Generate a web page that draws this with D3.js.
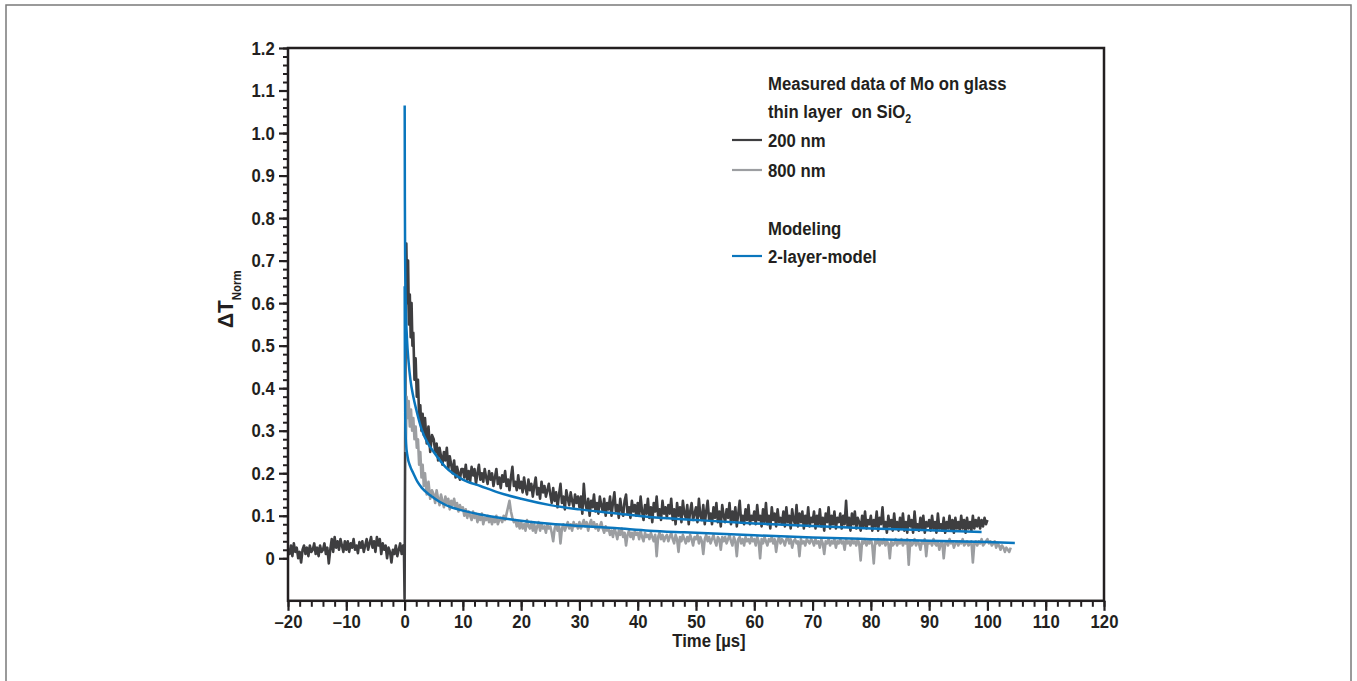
<!DOCTYPE html>
<html>
<head>
<meta charset="utf-8">
<script src="https://cdn.jsdelivr.net/npm/d3@7"></script>
<style>
  body { margin: 0; background: #fff; }
  svg text { font-family: "Liberation Sans", Arial, sans-serif; font-weight: bold; fill: #231f20; }
  .axis path, .axis line { stroke: #231f20; }
</style>
</head>
<body>
<svg id="chart" width="1357" height="681"></svg>
<script>
// ---- data ----
const xTicks = [-20, -10, 0, 10, 20, 30, 40, 50, 60, 70, 80, 90, 100, 110, 120];
const yTicks = [0, 0.1, 0.2, 0.3, 0.4, 0.5, 0.6, 0.7, 0.8, 0.9, 1.0, 1.1, 1.2];

// 200 nm, before the pulse: t = -20 ... -0.25, step 0.25
const dark200Pre = [
  0.02, 0.01, 0.03, 0.005, 0.035, 0.015, 0.025, 0.0, 0.015, -0.01, 0.02, 0.03, 0.01, 0.025, 0.005, 0.03, 0.015, 0.02, 0.035, 0.01,
  0.025, 0.005, 0.03, 0.015, 0.02, 0.035, 0.01, 0.025, -0.012, 0.02, 0.045, 0.015, 0.05, 0.025, 0.04, 0.02, 0.045, 0.03, 0.015, 0.04,
  0.02, 0.04, 0.015, 0.035, 0.025, 0.045, 0.02, 0.03, 0.012, 0.038, 0.025, 0.04, 0.015, 0.03, 0.045, 0.02, 0.035, 0.05, 0.025, 0.04,
  0.015, 0.05, 0.03, 0.045, 0.01, 0.035, 0.02, 0.03, 0.0, 0.025, 0.015, -0.01, 0.02, 0.01, 0.03, 0.005, 0.02, 0.035, 0.01, 0.03];

// 200 nm, around the pulse [t, value]
const dark200Peak = [[-0.1, 0.015], [0, -0.095], [0.15, 0.45], [0.3, 0.74], [0.45, 0.6], [0.6, 0.7],
  [0.75, 0.55], [0.9, 0.62], [1.05, 0.52], [1.2, 0.6], [1.35, 0.5], [1.5, 0.53], [1.7, 0.42],
  [1.9, 0.47], [2.1, 0.38], [2.3, 0.42], [2.5, 0.33], [2.7, 0.36], [2.9, 0.3], [3.1, 0.34],
  [3.3, 0.29], [3.5, 0.33], [3.8, 0.27], [4.1, 0.31], [4.4, 0.25], [4.7, 0.29]];

// 200 nm, tail: t = 5 ... 100, step 0.25
const dark200Tail = [
  0.28, 0.25, 0.27, 0.23, 0.26, 0.24, 0.22, 0.25, 0.23, 0.26, 0.21, 0.24, 0.22, 0.2, 0.23, 0.19, 0.215, 0.2, 0.185, 0.21,
  0.21, 0.19, 0.22, 0.185, 0.205, 0.18, 0.215, 0.195, 0.21, 0.175, 0.2, 0.22, 0.185, 0.2, 0.18, 0.21, 0.19, 0.175, 0.205, 0.185,
  0.2, 0.17, 0.19, 0.21, 0.175, 0.19, 0.165, 0.195, 0.18, 0.205, 0.17, 0.185, 0.16, 0.19, 0.215, 0.17, 0.18, 0.16, 0.195, 0.165,
  0.18, 0.155, 0.19, 0.165, 0.15, 0.185, 0.16, 0.175, 0.145, 0.17, 0.19, 0.15, 0.165, 0.14, 0.18, 0.155, 0.17, 0.145, 0.16, 0.175,
  0.15, 0.13, 0.165, 0.135, 0.155, 0.12, 0.15, 0.175, 0.13, 0.145, 0.115, 0.16, 0.14, 0.125, 0.155, 0.135, 0.12, 0.15, 0.13, 0.145,
  0.12, 0.145, 0.105, 0.175, 0.13, 0.115, 0.14, 0.1, 0.135, 0.12, 0.15, 0.11, 0.13, 0.105, 0.145, 0.125, 0.11, 0.14, 0.1, 0.13,
  0.115, 0.145, 0.1, 0.13, 0.155, 0.11, 0.125, 0.095, 0.14, 0.115, 0.1, 0.135, 0.15, 0.105, 0.12, 0.095, 0.135, 0.11, 0.125, 0.1,
  0.13, 0.1, 0.145, 0.11, 0.09, 0.125, 0.105, 0.14, 0.095, 0.12, 0.085, 0.13, 0.11, 0.145, 0.1, 0.115, 0.09, 0.135, 0.105, 0.12,
  0.095, 0.125, 0.105, 0.14, 0.09, 0.115, 0.08, 0.13, 0.1, 0.12, 0.085, 0.135, 0.105, 0.095, 0.125, 0.08, 0.11, 0.13, 0.09, 0.105,
  0.12, 0.085, 0.14, 0.1, 0.09, 0.125, 0.08, 0.11, 0.135, 0.09, 0.105, 0.08, 0.12, 0.095, 0.13, 0.085, 0.11, 0.075, 0.125, 0.1,
  0.085, 0.115, 0.095, 0.13, 0.08, 0.11, 0.09, 0.12, 0.075, 0.105, 0.135, 0.085, 0.1, 0.08, 0.115, 0.09, 0.125, 0.08, 0.1, 0.09,
  0.11, 0.08, 0.125, 0.09, 0.1, 0.075, 0.115, 0.085, 0.13, 0.08, 0.1, 0.07, 0.12, 0.09, 0.105, 0.075, 0.115, 0.085, 0.095, 0.08,
  0.11, 0.075, 0.12, 0.085, 0.1, 0.07, 0.115, 0.09, 0.08, 0.125, 0.075, 0.105, 0.085, 0.11, 0.07, 0.1, 0.08, 0.12, 0.075, 0.095,
  0.085, 0.11, 0.07, 0.1, 0.08, 0.115, 0.075, 0.095, 0.065, 0.105, 0.085, 0.12, 0.07, 0.1, 0.08, 0.11, 0.07, 0.095, 0.085, 0.105,
  0.07, 0.1, 0.08, 0.135, 0.075, 0.095, 0.065, 0.105, 0.08, 0.11, 0.07, 0.095, 0.085, 0.065, 0.1, 0.075, 0.11, 0.07, 0.09, 0.08,
  0.1, 0.065, 0.09, 0.075, 0.11, 0.065, 0.095, 0.08, 0.12, 0.07, 0.085, 0.06, 0.1, 0.075, 0.09, 0.065, 0.105, 0.07, 0.085, 0.065,
  0.095, 0.07, 0.105, 0.065, 0.085, 0.06, 0.1, 0.075, 0.09, 0.06, 0.11, 0.07, 0.08, 0.065, 0.095, 0.07, 0.1, 0.06, 0.085, 0.075,
  0.09, 0.065, 0.1, 0.07, 0.085, 0.06, 0.105, 0.07, 0.08, 0.065, 0.095, 0.06, 0.085, 0.07, 0.1, 0.065, 0.09, 0.06, 0.095, 0.07,
  0.085, 0.065, 0.1, 0.07, 0.09, 0.06, 0.095, 0.07, 0.085, 0.065, 0.1, 0.07, 0.09, 0.075, 0.095, 0.07, 0.09, 0.075, 0.095, 0.08,
  0.09];

// 800 nm, around the pulse [t, value]
const gray800Peak = [[0.2, 0.25], [0.35, 0.38], [0.5, 0.33], [0.7, 0.37], [0.9, 0.31], [1.1, 0.35],
  [1.3, 0.3], [1.5, 0.33], [1.7, 0.28], [1.9, 0.31], [2.1, 0.26], [2.3, 0.28], [2.5, 0.22],
  [2.7, 0.25], [2.9, 0.19], [3.1, 0.22], [3.3, 0.17], [3.5, 0.2], [3.8, 0.15], [4.1, 0.18],
  [4.4, 0.14], [4.7, 0.16]];

// 800 nm, tail: t = 5 ... 104, step 0.25
const gray800Tail = [
  0.15, 0.13, 0.16, 0.14, 0.125, 0.15, 0.135, 0.12, 0.145, 0.13, 0.14, 0.115, 0.135, 0.125, 0.14, 0.12, 0.13, 0.11, 0.125, 0.115,
  0.12, 0.1, 0.115, 0.095, 0.11, 0.1, 0.09, 0.11, 0.095, 0.105, 0.085, 0.1, 0.09, 0.105, 0.08, 0.095, 0.09, 0.1, 0.085, 0.095,
  0.08, 0.095, 0.085, 0.1, 0.08, 0.09, 0.095, 0.085, 0.1, 0.09, 0.105, 0.12, 0.135, 0.11, 0.095, 0.085, 0.09, 0.075, 0.085, 0.07,
  0.085, 0.07, 0.08, 0.065, 0.09, 0.075, 0.07, 0.085, 0.065, 0.08, 0.06, 0.075, 0.085, 0.065, 0.08, 0.07, 0.075, 0.06, 0.08, 0.07,
  0.075, 0.06, 0.04, 0.07, 0.08, 0.065, 0.075, 0.035, 0.07, 0.08, 0.065, 0.075, 0.085, 0.07, 0.08, 0.065, 0.085, 0.075, 0.08, 0.07,
  0.085, 0.07, 0.08, 0.09, 0.075, 0.085, 0.065, 0.08, 0.09, 0.075, 0.085, 0.07, 0.08, 0.065, 0.075, 0.085, 0.07, 0.06, 0.075, 0.065,
  0.07, 0.055, 0.065, 0.05, 0.07, 0.06, 0.045, 0.065, 0.055, 0.07, 0.05, 0.06, 0.03, 0.055, 0.065, 0.05, 0.06, 0.045, 0.065, 0.055,
  0.06, 0.045, 0.065, 0.05, 0.04, 0.06, 0.05, 0.055, 0.045, 0.06, 0.05, 0.04, 0.055, 0.005, 0.05, 0.06, 0.045, 0.055, 0.04, 0.05,
  0.055, 0.04, 0.05, 0.06, 0.045, 0.035, 0.055, 0.045, 0.015, 0.05, 0.04, 0.055, 0.045, 0.035, 0.05, 0.04, 0.055, 0.045, 0.03, 0.05,
  0.045, 0.055, 0.035, 0.05, 0.04, 0.01, 0.045, 0.055, 0.04, 0.05, 0.035, 0.045, 0.055, 0.04, 0.03, 0.05, 0.045, 0.02, 0.05, 0.04,
  0.05, 0.035, 0.045, 0.055, 0.04, 0.03, 0.05, 0.04, 0.005, 0.045, 0.05, 0.035, 0.045, 0.03, 0.05, 0.04, 0.045, 0.035, 0.05, 0.04,
  0.045, 0.03, 0.05, 0.04, 0.0, 0.045, 0.035, 0.05, 0.04, 0.03, 0.045, 0.04, 0.05, 0.035, 0.045, 0.015, 0.04, 0.05, 0.035, 0.045,
  0.04, 0.03, 0.045, 0.05, 0.035, 0.045, 0.025, 0.04, 0.045, 0.035, 0.04, 0.005, 0.045, 0.035, 0.04, 0.03, 0.045, 0.04, 0.035, 0.045,
  0.04, 0.03, 0.045, 0.035, 0.04, 0.025, 0.045, 0.035, 0.01, 0.04, 0.035, 0.045, 0.03, 0.04, 0.035, 0.045, 0.025, 0.04, 0.035, 0.045,
  0.035, 0.04, 0.02, 0.045, 0.035, 0.04, 0.03, 0.045, 0.035, 0.04, 0.03, 0.045, 0.035, -0.005, 0.04, 0.035, 0.045, 0.03, 0.04, 0.035,
  0.045, 0.03, -0.012, 0.04, 0.035, 0.045, 0.03, 0.04, 0.035, 0.045, 0.03, 0.04, 0.035, 0.0, 0.04, 0.03, 0.035, 0.045, 0.03, 0.04,
  0.035, 0.045, 0.03, 0.04, 0.035, 0.045, -0.015, 0.04, 0.03, 0.035, 0.045, 0.03, 0.04, 0.035, 0.02, 0.04, 0.035, 0.045, 0.005, 0.04,
  0.035, 0.04, 0.03, 0.045, 0.035, 0.03, 0.04, 0.02, 0.035, 0.04, 0.0, 0.035, 0.04, 0.03, 0.045, 0.035, 0.04, 0.025, 0.035, 0.04,
  0.03, 0.04, 0.035, 0.045, 0.03, 0.035, 0.04, 0.03, 0.035, 0.04, -0.01, 0.035, 0.04, 0.03, 0.04, 0.035, 0.045, 0.03, 0.035, 0.04,
  0.045, 0.035, 0.04, 0.03, 0.035, 0.04, 0.025, 0.035, 0.03, 0.02, 0.03, 0.025, 0.015, 0.025, 0.02, 0.015, 0.025];

// 2-layer-model curves [t, value]
const model200 = [[0.02, 1.065], [0.05, 0.85], [0.1, 0.7], [0.2, 0.6], [0.4, 0.52], [0.7, 0.46],
  [1, 0.42], [1.5, 0.38], [2, 0.35], [3, 0.3], [4, 0.27], [5, 0.25], [7, 0.215], [10, 0.185],
  [13, 0.17], [16, 0.155], [20, 0.14], [25, 0.125], [30, 0.115], [36, 0.106], [42, 0.097],
  [50, 0.09], [60, 0.082], [70, 0.076], [80, 0.07], [90, 0.066], [99, 0.062]];
const model800 = [[0.02, 0.64], [0.06, 0.42], [0.12, 0.32], [0.25, 0.27], [0.5, 0.24], [1, 0.215],
  [1.5, 0.2], [2.2, 0.18], [3, 0.165], [4.4, 0.148], [6, 0.133], [8, 0.12], [10, 0.112],
  [13, 0.103], [16, 0.096], [20, 0.088], [25, 0.081], [30, 0.076], [36, 0.071], [42, 0.065],
  [48, 0.061], [60, 0.054], [70, 0.049], [80, 0.045], [90, 0.041], [100, 0.038], [104.7, 0.036]];

const legendRows = [
  {label: "200 nm", color: "#3e3e40"},
  {label: "800 nm", color: "#9c9ea1"},
  {label: "2-layer-model", color: "#0a76bd"}
];

// ---- helpers ----
const stepSeries = (start, step, values) => values.map((v, i) => [start + i * step, v]);
const squeeze = 0.88; // narrow the bold face to look like the condensed original

const label = (parent, x, y, size, txt)=>{
    return parent.append("text")
    .attr("transform", "translate(" + x + "," + y + ") scale(" + squeeze + ",1)")
    .attr("font-size", size)
    .text(txt);
}

const drawChart = ()=>{
    let svg = d3.select("#chart");

    // outer frame
    svg.append("rect")
    .attr("x", 6).attr("y", 5)
    .attr("width", 1345).attr("height", 700)
    .attr("fill", "none")
    .attr("stroke", "#7a7a7a")
    .attr("stroke-width", 1.5);

    let plot = {left: 288, right: 1104, top: 48, bottom: 600.8};

    let xScale = d3.scaleLinear().domain([-20, 120]).range([plot.left, plot.right]);
    let yScale = d3.scaleLinear().domain([-0.1, 1.2]).range([plot.bottom, plot.top]);

    let line = d3.line()
    .x((d)=>xScale(d[0]))
    .y((d)=>yScale(d[1]));

    let smooth = d3.line()
    .x((d)=>xScale(d[0]))
    .y((d)=>yScale(d[1]))
    .curve(d3.curveMonotoneX);

    let dark = stepSeries(-20, 0.25, dark200Pre)
        .concat(dark200Peak)
        .concat(stepSeries(5, 0.25, dark200Tail));
    let gray = gray800Peak.concat(stepSeries(5, 0.25, gray800Tail));

    let g = svg.append("g");

    g.append("path").datum(dark)
    .attr("d", line)
    .attr("fill", "none")
    .attr("stroke", legendRows[0].color)
    .attr("stroke-width", 2.6)
    .attr("stroke-linejoin", "round");

    g.append("path").datum(gray)
    .attr("d", line)
    .attr("fill", "none")
    .attr("stroke", legendRows[1].color)
    .attr("stroke-width", 2.6)
    .attr("stroke-linejoin", "round");

    [model200, model800].forEach((m)=>{
        g.append("path").datum(m)
        .attr("d", smooth)
        .attr("fill", "none")
        .attr("stroke", legendRows[2].color)
        .attr("stroke-width", 2.5);
    });

    // minor ticks
    let minorX = d3.range(-20, 120.001, 2);
    let minorY = d3.range(0, 1.2001, 0.02);

    svg.append("g")
    .attr("class", "axis")
    .attr("transform", "translate(0," + plot.bottom + ")")
    .call(d3.axisBottom(xScale).tickValues(minorX).tickSize(6).tickFormat("").tickSizeOuter(0))
    .call((a)=>a.selectAll("line").attr("stroke-width", 2))
    .call((a)=>a.select(".domain").remove());

    svg.append("g")
    .attr("class", "axis")
    .attr("transform", "translate(" + plot.left + ",0)")
    .call(d3.axisLeft(yScale).tickValues(minorY).tickSize(5).tickFormat("").tickSizeOuter(0))
    .call((a)=>a.selectAll("line").attr("stroke-width", 2))
    .call((a)=>a.select(".domain").remove());

    // major ticks with labels
    let xAxis = svg.append("g")
    .attr("class", "axis")
    .attr("transform", "translate(0," + plot.bottom + ")")
    .call(d3.axisBottom(xScale).tickValues(xTicks).tickSize(10).tickPadding(4)
        .tickFormat((d)=>d < 0 ? "\u2013" + Math.abs(d) : String(d)));
    xAxis.select(".domain").remove();
    xAxis.selectAll("line").attr("stroke-width", 2.2);
    xAxis.selectAll("text")
    .attr("font-size", 19)
    .attr("fill", "#231f20")
    .attr("transform", "scale(" + squeeze + ",1)");

    let yAxis = svg.append("g")
    .attr("class", "axis")
    .attr("transform", "translate(" + plot.left + ",0)")
    .call(d3.axisLeft(yScale).tickValues(yTicks).tickSize(9).tickPadding(6)
        .tickFormat((d)=>d === 0 ? "0" : d.toFixed(1)));
    yAxis.select(".domain").remove();
    yAxis.selectAll("line").attr("stroke-width", 2.2);
    yAxis.selectAll("text")
    .attr("font-size", 19)
    .attr("fill", "#231f20")
    .attr("transform", "scale(" + squeeze + ",1)");

    svg.selectAll(".axis text")
    .style("font-family", "'Liberation Sans', Arial, sans-serif")
    .style("font-weight", "bold");

    // plot frame
    svg.append("rect")
    .attr("x", plot.left).attr("y", plot.top)
    .attr("width", plot.right - plot.left).attr("height", plot.bottom - plot.top)
    .attr("fill", "none")
    .attr("stroke", "#231f20")
    .attr("stroke-width", 2.5);

    // axis titles
    label(svg, 709, 647, 19, "Time [\u00b5s]").attr("text-anchor", "middle");

    let yt = svg.append("text")
    .attr("transform", "translate(233,328) rotate(-90) scale(0.95,1)")
    .attr("font-size", 22);
    yt.append("tspan").text("\u0394T");
    yt.append("tspan").attr("font-size", 12).attr("dy", 8).text("Norm");

    // legend
    let lx = 768;
    label(svg, lx, 90, 19, "Measured data of Mo on glass");
    let t2 = label(svg, lx, 118, 19, "thin layer\u00a0 on SiO");
    t2.append("tspan").attr("font-size", 12).attr("dy", 5).text("2");
    label(svg, lx, 235, 19, "Modeling");

    let rowY = [147, 177, 263];
    legendRows.forEach((r, i)=>{
        svg.append("line")
        .attr("x1", 732).attr("x2", 762)
        .attr("y1", rowY[i] - 7).attr("y2", rowY[i] - 7)
        .attr("stroke", r.color)
        .attr("stroke-width", 2.2);
        label(svg, lx, rowY[i], 19, r.label);
    });
}

window.onload = function(){
    drawChart();
}
</script>
</body>
</html>
